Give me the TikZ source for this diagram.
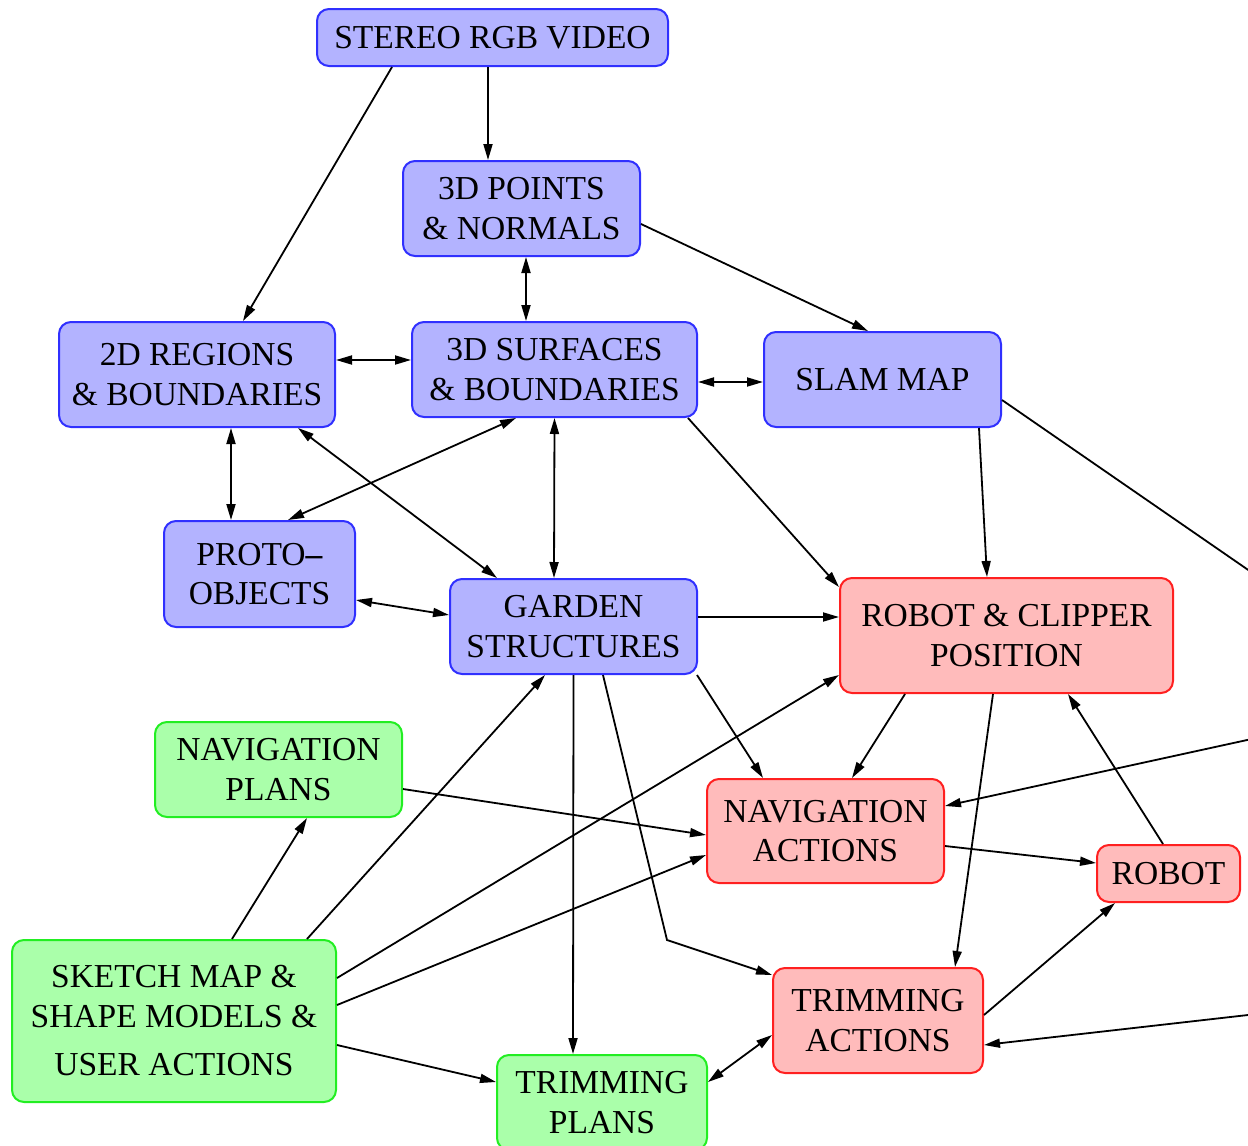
\documentclass[tikz,border=0pt]{standalone}
\usepackage{fontspec}
\setmainfont{Liberation Serif}
\usetikzlibrary{arrows.meta}
\definecolor{bfill}{HTML}{B3B3FF}
\definecolor{bdraw}{HTML}{3030FF}
\definecolor{rfill}{HTML}{FFBBBB}
\definecolor{rdraw}{HTML}{FF2020}
\definecolor{gfill}{HTML}{AAFFAA}
\definecolor{gdraw}{HTML}{22EE22}
\begin{document}
\begin{tikzpicture}[x=1pt,y=-1pt,
  font=\fontsize{33.5}{39.5}\selectfont,
  box/.style={rounded corners=12pt, line width=2pt, align=center, inner sep=0pt},
  bluebox/.style={box, fill=bfill, draw=bdraw},
  redbox/.style={box, fill=rfill, draw=rdraw},
  greenbox/.style={box, fill=gfill, draw=gdraw},
  arr/.style={line width=1.8pt, -{Triangle[length=16pt,width=9pt]}},
  biarr/.style={line width=1.8pt, {Triangle[length=16pt,width=9pt]}-{Triangle[length=16pt,width=9pt]}}
]
\path[use as bounding box] (0,0) rectangle (1248,1146);
\clip (0,0) rectangle (1248,1146);

% nodes
\node[bluebox, minimum width=351pt, minimum height=57pt] (stereo) at (492.5,37.5) {STEREO RGB VIDEO};
\node[bluebox, minimum width=237pt, minimum height=95pt] (points) at (521.5,208.5) {3D POINTS\\\& NORMALS};
\node[bluebox, minimum width=276pt, minimum height=105pt] (reg) at (197,374.5) {2D REGIONS\\\& BOUNDARIES};
\node[bluebox, minimum width=285pt, minimum height=95pt] (surf) at (554.5,369.5) {3D SURFACES\\\& BOUNDARIES};
\node[bluebox, minimum width=237pt, minimum height=95pt] (slam) at (882.5,379.5) {SLAM MAP};
\node[bluebox, minimum width=191pt, minimum height=106pt] (proto) at (259.5,574) {PROTO\textbf{--}\\OBJECTS};
\node[bluebox, minimum width=247pt, minimum height=95pt] (garden) at (573.5,626.5) {GARDEN\\STRUCTURES};
\node[redbox, minimum width=333pt, minimum height=115pt] (rcpos) at (1006.5,635.5) {ROBOT \& CLIPPER\\POSITION};
\node[greenbox, minimum width=247pt, minimum height=95pt] (navplans) at (278.5,769.5) {NAVIGATION\\PLANS};
\node[redbox, minimum width=237pt, minimum height=104pt] (navact) at (825.5,831) {NAVIGATION\\ACTIONS};
\node[redbox, minimum width=143pt, minimum height=57pt] (robot) at (1168.5,873.5) {ROBOT};
\node[greenbox, minimum width=324pt, minimum height=162pt] (sketch) at (174,1021) {SKETCH MAP \&\\SHAPE MODELS \&\\[9pt]USER ACTIONS};
\node[greenbox, minimum width=210pt, minimum height=95pt] (trimplans) at (602,1102.5) {TRIMMING\\PLANS};
\node[redbox, minimum width=210pt, minimum height=105pt] (trimact) at (878,1020.5) {TRIMMING\\ACTIONS};

% free ends beyond the right border
\coordinate (offA) at (1270,585);
\coordinate (offB) at (1270,735);
\coordinate (offC) at (1270,1012.5);
\coordinate (bend) at (667,940);

% connectors
\draw[arr] ([xshift=-100.5pt]stereo.south) -- ([xshift=46pt]reg.north);
\draw[arr] ([xshift=-4.5pt]stereo.south) -- ([xshift=-33.5pt]points.north);
\draw[arr] ([yshift=-15.5pt]points.east) -- ([xshift=-14.5pt]slam.north);
\draw[biarr] ([xshift=4.5pt]points.south) -- ([xshift=-28.5pt]surf.north);
\draw[biarr] ([yshift=14.5pt]reg.east) -- ([yshift=9.5pt]surf.west);
\draw[biarr] ([yshift=-12.5pt]surf.east) -- ([yshift=-2.5pt]slam.west);
\draw[biarr] ([xshift=34pt]reg.south) -- ([xshift=-28.5pt]proto.north);
\draw[biarr] ([xshift=-38.5pt]surf.south) -- ([xshift=28.5pt]proto.north);
\draw[biarr] ([xshift=101pt]reg.south) -- ([xshift=-76.5pt]garden.north);
\draw[biarr] ([xshift=0pt]surf.south) -- ([xshift=-19.5pt]garden.north);
\draw[arr] ([xshift=133.5pt]surf.south) -- ([yshift=48.5pt]rcpos.west);
\draw[arr] ([xshift=96.5pt]slam.south) -- ([xshift=-19.5pt]rcpos.north);
\draw[line width=1.8pt] ([yshift=-20.5pt]slam.east) -- (offA);
\draw[biarr] ([yshift=-26pt]proto.east) -- ([yshift=11.5pt]garden.west);
\draw[arr] ([yshift=9.5pt]garden.east) -- ([yshift=18.5pt]rcpos.west);
\draw[arr] ([xshift=123.5pt]garden.south) -- ([xshift=-62.5pt]navact.north);
\draw[arr] (garden.south) -- ([xshift=-29pt]trimplans.north);
\draw[arr] ([xshift=29.5pt]garden.south) -- (bend) -- ([yshift=45.5pt]trimact.west);
\draw[arr] ([xshift=-101.5pt]rcpos.south) -- ([xshift=26.5pt]navact.north);
\draw[arr] ([xshift=-13.5pt]rcpos.south) -- ([xshift=77pt]trimact.north);
\draw[arr] ([xshift=-5.5pt]robot.north) -- ([xshift=61.5pt]rcpos.south);
\draw[arr] (offB) -- ([yshift=25pt]navact.east);
\draw[arr] ([yshift=-15pt]navact.east) -- ([yshift=10.5pt]robot.west);
\draw[arr] ([yshift=-19.5pt]navplans.east) -- ([yshift=-4pt]navact.west);
\draw[arr] ([xshift=58pt]sketch.north) -- ([xshift=28.5pt]navplans.south);
\draw[arr] ([xshift=133pt]sketch.north) -- ([xshift=-28.5pt]garden.south);
\draw[arr] ([yshift=43pt]sketch.east) -- ([yshift=-39.5pt]rcpos.west);
\draw[arr] ([yshift=16pt]sketch.east) -- ([yshift=-24pt]navact.west);
\draw[arr] ([yshift=-24pt]sketch.east) -- ([yshift=20.5pt]trimplans.west);
\draw[biarr] ([yshift=20.5pt]trimplans.east) -- ([yshift=-14.5pt]trimact.west);
\draw[arr] ([yshift=5.5pt]trimact.east) -- ([xshift=-53.5pt]robot.south);
\draw[arr] (offC) -- ([yshift=-24.5pt]trimact.east);
\end{tikzpicture}
\end{document}
